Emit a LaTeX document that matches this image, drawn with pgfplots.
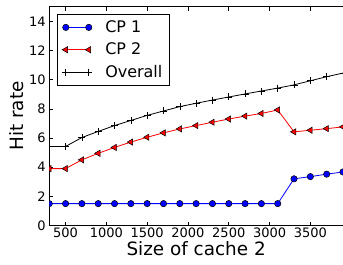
\documentclass[border=0pt]{standalone}
\usepackage{pgfplots}
\pgfplotsset{compat=1.18}
\usetikzlibrary{calc}
\usepackage{fontspec}
\setmainfont{DejaVu Sans}
\begin{document}
\begin{tikzpicture}
\begin{axis}[
  scale only axis,
  width=294pt, height=219pt,
  xmin=300, xmax=3900, ymin=0, ymax=15,
  axis y line*=left, axis x line*=box,
  xtick={500,1000,1500,2000,2500,3000,3500},
  ytick={0,2,4,6,8,10,12,14},
  scaled x ticks=false,
  /pgf/number format/1000 sep={},
  /pgf/number format/assume math mode=true,
  tick label style={font=\fontsize{13}{15}\selectfont},
  xticklabel style={yshift=1pt},
  tick align=inside, major tick length=4pt,
  tick style={black, line width=0.6pt},
  axis line style={black, line width=0.8pt},
  xlabel={Size of cache 2}, ylabel={Hit rate},
  label style={font=\fontsize{18.4}{20}\selectfont},
  xlabel style={yshift=3pt},
  ylabel style={yshift=-1pt},
  clip marker paths=true,
  legend style={at={(0.026,0.967)}, anchor=north west, draw=black, line width=0.6pt,
    font=\fontsize{16}{18}\selectfont, row sep=5pt, inner xsep=5pt, inner ysep=4.5pt,
    legend cell align=left,
    /tikz/every odd column/.append style={column sep=11pt}},
  legend image code/.code={
    \draw plot coordinates {(0pt,0pt) (23pt,0pt)};
  },
  name=ax,
]
\addplot[blue, line width=0.8pt, mark=*, mark size=3.2pt, mark options={fill=blue, draw=black, line width=0.5pt}] coordinates {
(300,1.5)(500,1.5)(700,1.5)(900,1.5)(1100,1.5)(1300,1.5)(1500,1.5)(1700,1.5)(1900,1.5)(2100,1.5)(2300,1.5)(2500,1.5)(2700,1.5)(2900,1.5)(3100,1.5)(3300,3.2)(3500,3.35)(3700,3.52)(3900,3.67)};
\addlegendentry{CP 1}
\addplot[red, line width=0.8pt, mark=triangle*, mark size=3.6pt, mark options={rotate=90, fill=red, draw=black, line width=0.5pt}] coordinates {
(300,3.9)(500,3.9)(700,4.5)(900,4.95)(1100,5.35)(1300,5.72)(1500,6.05)(1700,6.35)(1900,6.62)(2100,6.85)(2300,7.08)(2500,7.3)(2700,7.5)(2900,7.68)(3100,7.92)(3300,6.42)(3500,6.53)(3700,6.64)(3900,6.76)};
\addlegendentry{CP 2}
\addplot[black, line width=0.8pt, mark=+, mark size=3.5pt, mark options={line width=0.6pt}] coordinates {
(300,5.42)(500,5.42)(700,6.03)(900,6.45)(1100,6.85)(1300,7.2)(1500,7.55)(1700,7.85)(1900,8.15)(2100,8.38)(2300,8.6)(2500,8.81)(2700,9.02)(2900,9.22)(3100,9.42)(3300,9.64)(3500,9.92)(3700,10.2)(3900,10.45)};
\addlegendentry{Overall}
\coordinate (sw) at (rel axis cs:0,0);
\coordinate (ne) at (rel axis cs:1,1);
\end{axis}
\pgfresetboundingbox
\useasboundingbox ($(sw)+(-49.3pt,-39.3pt)$) rectangle ($(ne)+(0pt,6.7pt)$);
\end{tikzpicture}
\end{document}
